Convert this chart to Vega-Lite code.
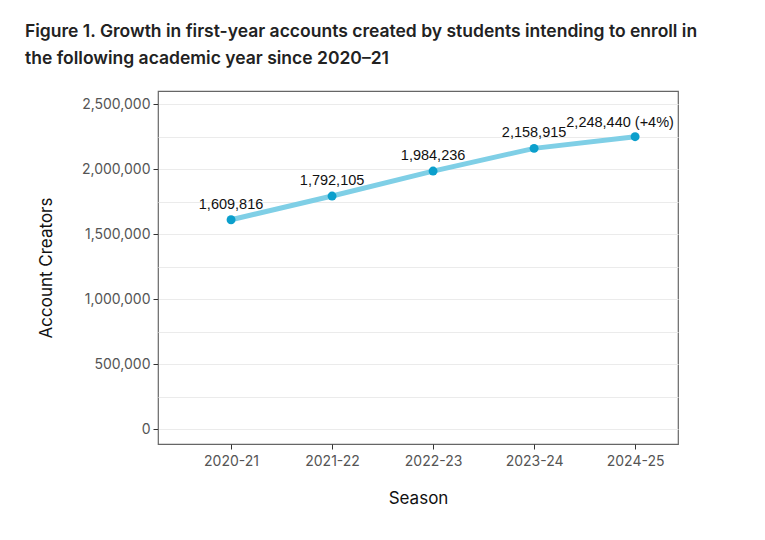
{
  "$schema": "https://vega.github.io/schema/vega-lite/v6.json",
  "autosize": "none",
  "width": 520,
  "height": 353,
  "padding": {"left": 158, "top": 91, "right": 87, "bottom": 96},
  "background": "white",
  "title": {
    "text": ["Figure 1. Growth in first-year accounts created by students intending to enroll in", "the following academic year since 2020–21"],
    "anchor": "start",
    "frame": "group",
    "dx": -133,
    "offset": 24,
    "font": "Inter",
    "fontSize": 17.5,
    "fontWeight": 600,
    "color": "#222222",
    "lineHeight": 27
  },
  "data": {
    "values": [
      {"season": "2020-21", "creators": 1609816, "label": "1,609,816", "last": false},
      {"season": "2021-22", "creators": 1792105, "label": "1,792,105", "last": false},
      {"season": "2022-23", "creators": 1984236, "label": "1,984,236", "last": false},
      {"season": "2023-24", "creators": 2158915, "label": "2,158,915", "last": false},
      {"season": "2024-25", "creators": 2248440, "label": "2,248,440 (+4%)", "last": true}
    ]
  },
  "config": {
    "view": {"stroke": "#666666", "strokeWidth": 1.2, "fill": "white"},
    "axis": {
      "domain": false,
      "gridColor": "#ebebeb",
      "gridWidth": 1.2,
      "tickColor": "#333333",
      "tickSize": 5,
      "labelFont": "Inter",
      "labelFontSize": 14,
      "labelColor": "#555555",
      "titleFont": "Inter",
      "titleFontSize": 17,
      "titleFontWeight": "normal",
      "titleColor": "#111111"
    }
  },
  "encoding": {
    "x": {
      "field": "season",
      "type": "ordinal",
      "sort": null,
      "scale": {"type": "point", "padding": 0.574, "align": 0.63},
      "axis": {"title": "Season", "labelAngle": 0, "labelPadding": 5, "titlePadding": 22}
    },
    "y": {
      "field": "creators",
      "type": "quantitative",
      "scale": {"domain": [-115000, 2600000], "nice": false, "zero": false},
      "axis": {
        "title": "Account Creators",
        "values": [0, 250000, 500000, 750000, 1000000, 1250000, 1500000, 1750000, 2000000, 2250000, 2500000],
        "format": ",d",
        "labelExpr": "datum.value % 500000 == 0 ? datum.label : ''",
        "tickOpacity": {"condition": {"test": "datum.value % 500000 != 0", "value": 0}, "value": 1},
        "labelPadding": 3,
        "titlePadding": 26
      }
    }
  },
  "layer": [
    {"mark": {"type": "line", "color": "#7fcfe6", "strokeWidth": 5, "strokeCap": "round"}},
    {"mark": {"type": "circle", "color": "#0b9fcc", "size": 80, "opacity": 1}},
    {
      "transform": [{"filter": "!datum.last"}],
      "mark": {"type": "text", "font": "Liberation Sans", "fontSize": 14.5, "color": "#111111", "dy": -15},
      "encoding": {"text": {"field": "label"}}
    },
    {
      "transform": [{"filter": "datum.last"}],
      "mark": {"type": "text", "font": "Liberation Sans", "fontSize": 14.5, "color": "#111111", "dy": -14, "dx": -15},
      "encoding": {"text": {"field": "label"}}
    }
  ]
}
